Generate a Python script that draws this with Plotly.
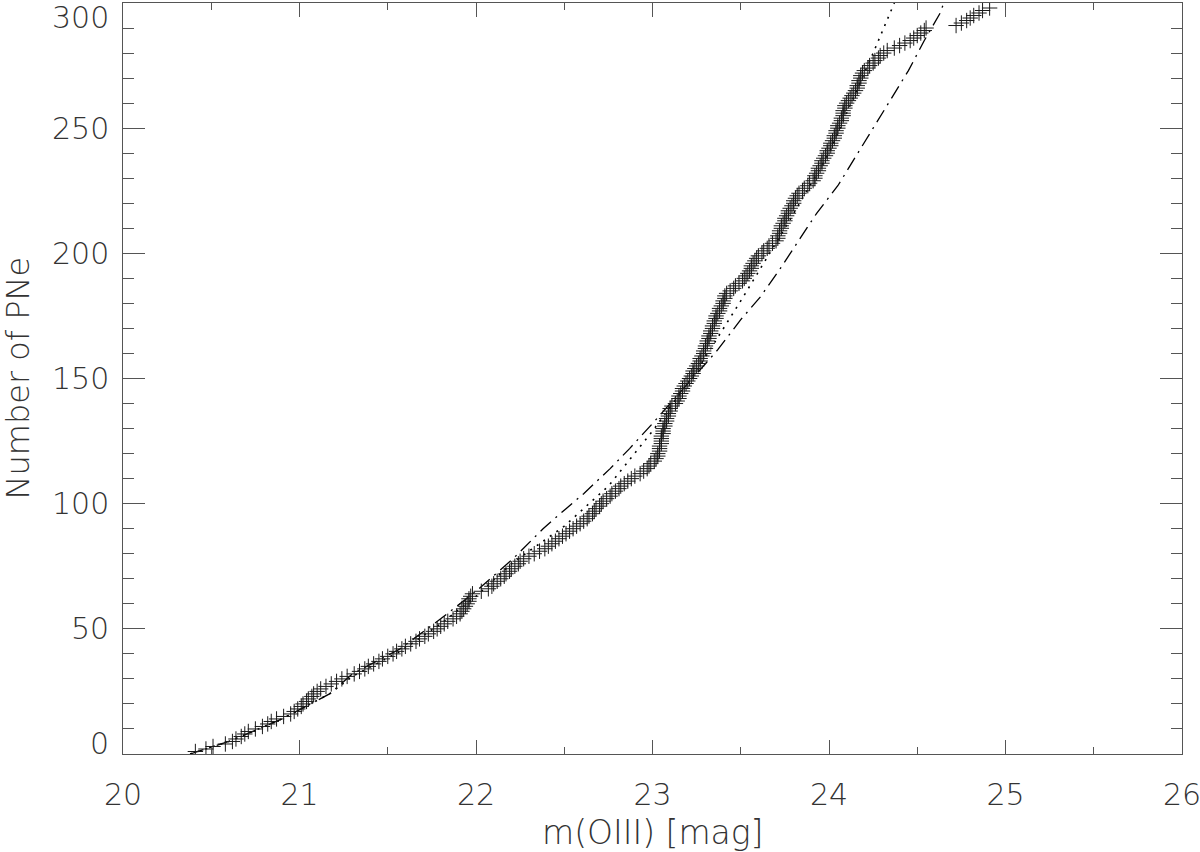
import plotly.graph_objects as go

# observed PNe, sorted by magnitude; N-th entry is the N-th brightest
pn_mag = [
    20.41, 20.47, 20.51, 20.58, 20.62, 20.64, 20.67, 20.69, 20.71, 20.75,
    20.79, 20.82, 20.84, 20.87, 20.91, 20.95, 20.97, 20.99, 21.01, 21.02,
    21.04, 21.05, 21.07, 21.08, 21.10, 21.12, 21.15, 21.18, 21.21, 21.24,
    21.27, 21.31, 21.34, 21.37, 21.39, 21.42, 21.45, 21.47, 21.50, 21.53,
    21.55, 21.58, 21.60, 21.63, 21.66, 21.68, 21.71, 21.73, 21.76, 21.78,
    21.80, 21.82, 21.84, 21.87, 21.89, 21.91, 21.92, 21.93, 21.94, 21.95,
    21.96, 21.96, 21.97, 21.98, 22.03, 22.07, 22.09, 22.10, 22.12, 22.14,
    22.16, 22.17, 22.19, 22.20, 22.22, 22.24, 22.25, 22.27, 22.30, 22.33,
    22.36, 22.39, 22.41, 22.43, 22.45, 22.47, 22.49, 22.51, 22.53, 22.55,
    22.57, 22.59, 22.61, 22.63, 22.64, 22.66, 22.67, 22.68, 22.70, 22.71,
    22.72, 22.74, 22.76, 22.77, 22.79, 22.81, 22.82, 22.84, 22.86, 22.88,
    22.90, 22.93, 22.95, 22.97, 22.98, 22.99, 23.01, 23.02, 23.03, 23.03,
    23.04, 23.04, 23.04, 23.05, 23.05, 23.05, 23.05, 23.06, 23.06, 23.06,
    23.07, 23.07, 23.08, 23.08, 23.09, 23.09, 23.10, 23.10, 23.11, 23.13,
    23.14, 23.15, 23.15, 23.16, 23.17, 23.17, 23.18, 23.19, 23.20, 23.21,
    23.22, 23.23, 23.23, 23.24, 23.25, 23.26, 23.27, 23.27, 23.28, 23.29,
    23.29, 23.30, 23.30, 23.31, 23.31, 23.32, 23.32, 23.33, 23.33, 23.34,
    23.34, 23.35, 23.35, 23.36, 23.36, 23.37, 23.38, 23.38, 23.39, 23.40,
    23.40, 23.41, 23.41, 23.42, 23.44, 23.46, 23.47, 23.49, 23.51, 23.52,
    23.53, 23.54, 23.55, 23.56, 23.56, 23.57, 23.58, 23.59, 23.60, 23.62,
    23.63, 23.65, 23.66, 23.68, 23.70, 23.71, 23.71, 23.72, 23.72, 23.73,
    23.73, 23.74, 23.75, 23.75, 23.76, 23.77, 23.77, 23.78, 23.79, 23.80,
    23.80, 23.81, 23.82, 23.83, 23.85, 23.86, 23.88, 23.89, 23.91, 23.92,
    23.92, 23.93, 23.94, 23.94, 23.95, 23.96, 23.96, 23.97, 23.98, 23.99,
    23.99, 24.00, 24.01, 24.01, 24.02, 24.03, 24.03, 24.04, 24.04, 24.05,
    24.05, 24.06, 24.07, 24.07, 24.08, 24.08, 24.08, 24.09, 24.09, 24.10,
    24.11, 24.12, 24.13, 24.14, 24.15, 24.16, 24.16, 24.17, 24.17, 24.18,
    24.18, 24.19, 24.20, 24.22, 24.23, 24.25, 24.26, 24.28, 24.29, 24.31,
    24.33, 24.37, 24.40, 24.43, 24.46, 24.48, 24.50, 24.52, 24.54, 24.55,
    24.72, 24.75, 24.78, 24.80, 24.82, 24.85, 24.87, 24.91,
]
pn_count = list(range(1, len(pn_mag) + 1))

# model curves
dot_mag = [20.38, 20.6, 20.9, 21.17, 21.3, 21.57, 21.8, 22.0, 22.2, 22.5,
           22.75, 23.0, 23.25, 23.5, 23.75, 24.0, 24.25, 24.37]
dot_n = [0, 5, 14, 24, 31, 41, 52, 63, 76, 91, 107, 129, 153, 181, 210, 240,
         280, 300]

dashdot_mag = [20.38, 20.6, 20.9, 21.17, 21.3, 21.57, 21.8, 22.0, 22.21,
               22.38, 22.51, 22.61, 22.76, 22.87, 23.0, 23.37, 23.5, 23.61,
               23.72, 23.93, 24.05, 24.13, 24.25, 24.35, 24.45, 24.54, 24.63,
               24.65]
dashdot_n = [0, 5, 14, 24, 32, 42, 54, 65, 78, 90, 98, 104, 114, 122, 132,
             161.5, 173.5, 182.5, 193.5, 216, 227, 236, 250, 261.5, 273, 285,
             296, 300]

x_ticks = [20, 21, 22, 23, 24, 25, 26]
y_ticks = [0, 50, 100, 150, 200, 250, 300]

ink = "#333333"
font = dict(family="DejaVu Sans", size=30, color=ink, weight=200)
title_font = dict(family="DejaVu Sans", size=33, color=ink, weight=200)

fig = go.Figure()
fig.add_trace(go.Scatter(
    x=dot_mag, y=dot_n, mode="lines",
    line=dict(color="black", width=1.6, dash="2px,6px"),
))
fig.add_trace(go.Scatter(
    x=dashdot_mag, y=dashdot_n, mode="lines",
    line=dict(color="black", width=1.3, dash="14px,6px,2px,6px"),
))
fig.add_trace(go.Scatter(
    x=pn_mag, y=pn_count, mode="markers",
    marker=dict(symbol="cross-thin-open", size=11, color="#1a1a1a",
                line=dict(color="#1a1a1a", width=1)),
))

axis_common = dict(
    showgrid=False, zeroline=False, showline=True, linecolor="#555555",
    linewidth=1, mirror="ticks", ticks="inside", tickcolor="#555555",
    tickwidth=1,
)
fig.update_xaxes(
    range=[20, 26], tickvals=x_ticks, ticklen=14, tickfont=font,
    ticklabelstandoff=14, ticklabeloverflow="allow",
    minor=dict(dtick=0.5, ticks="inside", ticklen=7, tickcolor="#555555"),
    **axis_common,
)
fig.update_yaxes(
    range=[0, 300], tickvals=y_ticks, ticklen=22, showticklabels=False,
    minor=dict(dtick=10, ticks="inside", ticklen=11, tickcolor="#555555"),
    **axis_common,
)

# y tick labels as text so the end ones can sit inside the page like the original
shift = {0: 11, 300: -14}
for v in y_ticks:
    fig.add_annotation(
        x=0, xref="paper", y=v, yref="y", text=str(v), showarrow=False,
        xanchor="right", yanchor="middle", xshift=-12, yshift=shift.get(v, 0),
        font=font,
    )
fig.add_annotation(
    x=0, xref="paper", y=0.5, yref="paper", text="Number of PNe",
    showarrow=False, textangle=-90, xanchor="center", yanchor="middle",
    xshift=-106, font=dict(family="DejaVu Sans", size=32, color=ink, weight=200),
)
fig.add_annotation(
    x=0.5, xref="paper", y=0, yref="paper", text="m(OIII) [mag]",
    showarrow=False, xanchor="center", yanchor="middle", yshift=-78,
    font=title_font,
)

fig.update_layout(
    width=1200, height=852, showlegend=False,
    margin=dict(l=123, r=18, t=3, b=98, autoexpand=False),
    plot_bgcolor="white", paper_bgcolor="white",
)
fig.write_html(
    "out.html",
    config={"displayModeBar": False},
    post_script="document.body.style.margin='0';",
)
